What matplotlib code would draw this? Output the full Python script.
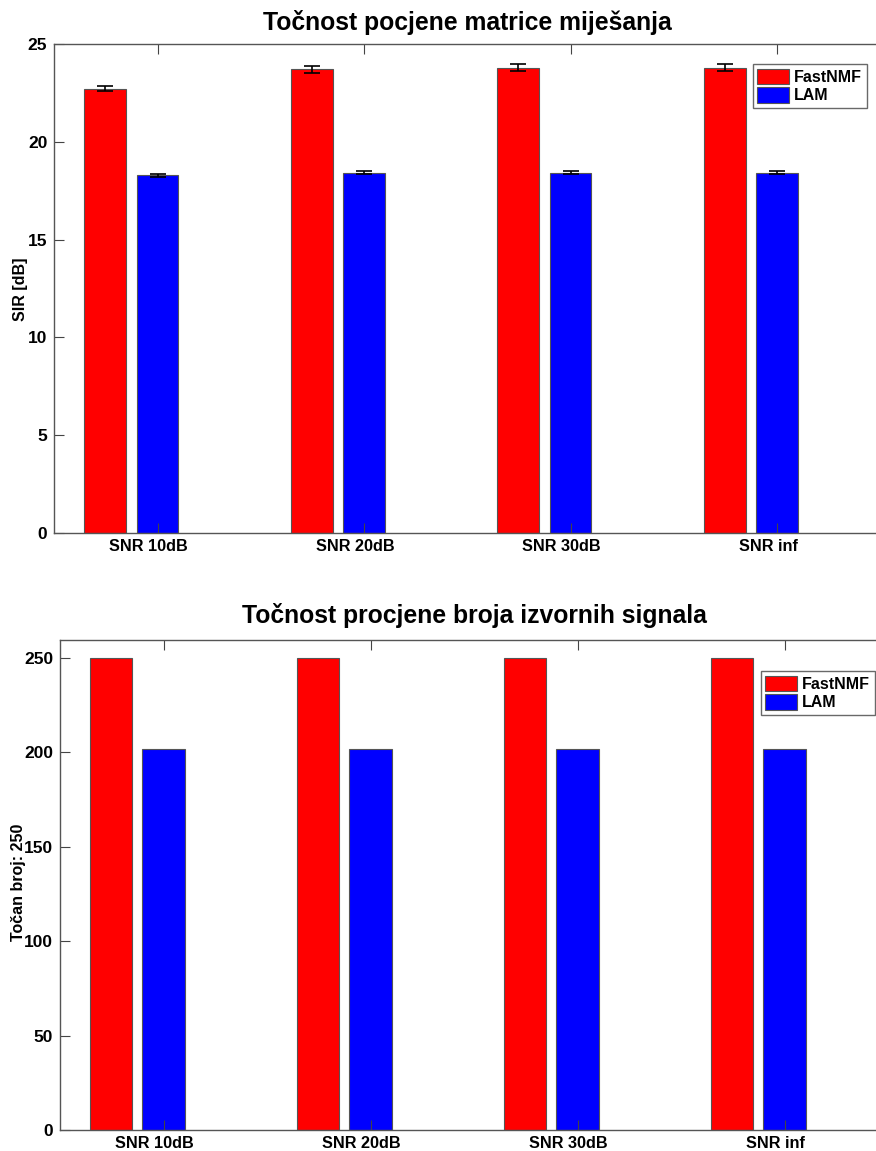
import matplotlib
matplotlib.use("Agg")
import matplotlib.pyplot as plt
import matplotlib.transforms as mtransforms
import numpy as np

plt.rcParams['font.family'] = ['Liberation Sans', 'DejaVu Sans']
plt.rcParams['font.weight'] = 'bold'

categories = ["SNR 10dB", "SNR 20dB", "SNR 30dB", "SNR inf"]
series = ["FastNMF", "LAM"]

sir_fastnmf = [22.72, 23.71, 23.78, 23.78]
sir_fastnmf_err = [0.13, 0.18, 0.18, 0.18]
sir_lam = [18.29, 18.42, 18.42, 18.42]
sir_lam_err = [0.07, 0.07, 0.07, 0.07]

count_fastnmf = [250, 250, 250, 250]
count_lam = [202, 202, 202, 202]

titles = ["Točnost pocjene matrice miješanja", "Točnost procjene broja izvornih signala"]
ylabels = ["SIR [dB]", "Točan broj: 250"]

W, H = 876, 1151
fig = plt.figure(figsize=(W / 100, H / 100), dpi=100)

def ax_at(l, t, r, b):
    return fig.add_axes([l / W, 1 - b / H, (r - l) / W, (b - t) / H])

ax1 = ax_at(54.25, 44, 880.25, 533)
ax2 = ax_at(60, 640, 888, 1130)

x = np.arange(1, len(categories) + 1)
off = 0.254
bw = 0.203
red = '#ff0000'
blue = '#0000ff'
edge = '#555555'

def style(ax, ylim, yticks, title, ylabel, title_pad, ylab_xy):
    ax.set_xlim(0.5, 4.5)
    ax.set_ylim(*ylim)
    ax.set_yticks(yticks)
    ax.set_xticks(x)
    ax.set_xticklabels(categories, fontsize=11.7, fontweight='bold')
    ax.tick_params(axis='x', direction='in', top=True, bottom=True, length=7, pad=4, color='#444444')
    ax.tick_params(axis='y', direction='in', left=True, right=False, length=7, labelsize=12.5, pad=5, color='#444444')
    for lab in ax.get_xticklabels():
        lab.set_transform(lab.get_transform() + mtransforms.ScaledTranslation(-9 / 100, 0, fig.dpi_scale_trans))
    for s in ax.spines.values():
        s.set_color('#555555')
        s.set_linewidth(1.0)
    ax.set_title(title, fontsize=17.8, fontweight='bold', pad=title_pad)
    fig.text(ylab_xy[0] / W, 1 - ylab_xy[1] / H, ylabel, rotation=90, ha='center', va='center',
             fontsize=11.5, fontweight='bold')
    leg = ax.legend(loc='upper right', fontsize=11.5, frameon=True,
                    fancybox=False, handlelength=2.0, handleheight=1.1, handletextpad=0.3,
                    borderpad=0.3, labelspacing=0.15, borderaxespad=0)
    leg.get_frame().set_edgecolor('#444444')
    leg.get_frame().set_linewidth(1.0)
    return leg

ax1.bar(x - off, sir_fastnmf, bw, color=red, edgecolor=edge, linewidth=0.8, label=series[0],
        yerr=sir_fastnmf_err, error_kw=dict(ecolor='black', elinewidth=1.2, capsize=6, capthick=1.2))
ax1.bar(x, sir_lam, bw, color=blue, edgecolor=edge, linewidth=0.8, label=series[1],
        yerr=sir_lam_err, error_kw=dict(ecolor='black', elinewidth=1.2, capsize=6, capthick=1.2))
leg1 = style(ax1, (0, 25), [0, 5, 10, 15, 20, 25], titles[0], ylabels[0], 10, (20, 289))
leg1.set_bbox_to_anchor((867 / W, 1 - 64 / H), transform=fig.transFigure)

ax2.bar(x - off, count_fastnmf, bw, color=red, edgecolor=edge, linewidth=0.8, label=series[0])
ax2.bar(x, count_lam, bw, color=blue, edgecolor=edge, linewidth=0.8, label=series[1])
leg2 = style(ax2, (0, 259.5), [0, 50, 100, 150, 200, 250], titles[1], ylabels[1], 12, (19, 882))
leg2.set_bbox_to_anchor((875 / W, 1 - 671 / H), transform=fig.transFigure)

fig.savefig("out.png", dpi=100)
